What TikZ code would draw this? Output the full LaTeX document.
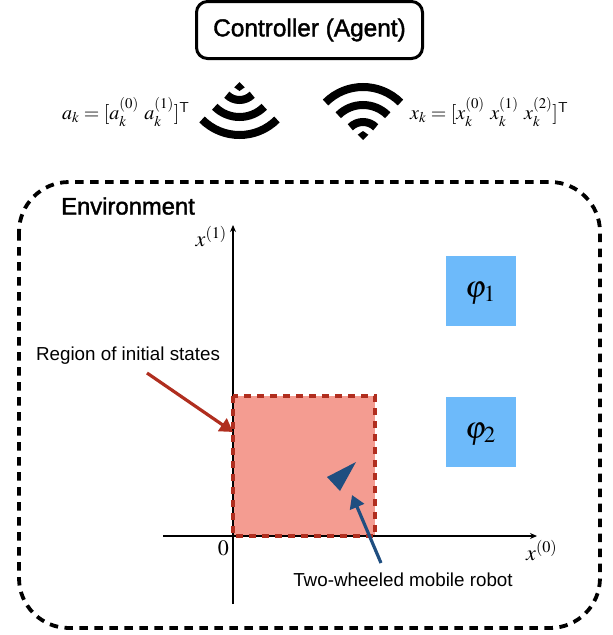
\documentclass[tikz,border=0pt]{standalone}
\usepackage{mathptmx}
\usepackage{fontspec}
\setmainfont{Liberation Sans}
\newfontfamily\boldishfont[FakeBold=1.6]{Liberation Sans}
\usetikzlibrary{calc,arrows.meta}
\definecolor{regionfill}{HTML}{F49C91}
\definecolor{regionline}{HTML}{B02E1F}
\definecolor{specblue}{HTML}{6DBAFA}
\definecolor{robotblue}{HTML}{1F4E80}
\tikzset{
    axisline/.style={line width=1.1pt,-{Stealth[length=7pt,width=6pt]}},
    specbox/.style={fill=specblue,minimum width=70pt,minimum height=70pt,inner sep=0pt,text height=16pt,text depth=4pt,font=\fontsize{31}{31}\selectfont},
    callout/.style={line width=3.2pt,-{Triangle[length=13pt,width=15pt]}},
    plainlabel/.style={font=\fontsize{18.8}{22}\selectfont,inner sep=0pt},
    mathlabel/.style={font=\fontsize{20}{24}\selectfont,inner sep=0pt}
}
\begin{document}
\begin{tikzpicture}[x=1pt,y=-1pt]
    \useasboundingbox (0,0) rectangle (613,635);
    % top row
    \node[draw,line width=3pt,rounded corners=11pt,minimum width=226pt,minimum height=57pt,font=\boldishfont\fontsize{24.4}{26}\selectfont] (controller) at (309.5,30) {Controller (Agent)};
    \node[mathlabel,anchor=west] (action) at (62,112) {$a_k=[a_k^{(0)}\ a_k^{(1)}]^{\mathsf{T}}$};
    \node[mathlabel,anchor=west] (state) at (410,112) {$x_k=[x_k^{(0)}\ x_k^{(1)}\ x_k^{(2)}]^{\mathsf{T}}$};
    % the two signal icons
    \coordinate (down) at (239.5,82);
    \coordinate (up) at (363,140);
    \foreach \r in {18,35,53}{
        \draw[line width=8pt] ($(down)+(45:\r)$) arc (45:135:\r);
        \draw[line width=8pt] ($(up)+(-45:\r)$) arc (-45:-135:\r);
    }
    \fill (down)++(0,0) -- +(45:7.5) -- +(0,9) -- +(135:7.5) -- cycle;
    \fill (up)++(0,0) -- +(-45:7.5) -- +(0,-9) -- +(-135:7.5) -- cycle;
    % environment
    \draw[line width=3.8pt,dash pattern=on 8.5pt off 6.5pt,rounded corners=50pt] (19,182) rectangle (600,628);
    \node[anchor=west,inner sep=0pt,font=\boldishfont\fontsize{23.8}{26}\selectfont] (environment) at (61,206) {Environment};
    % region of initial states
    \fill[regionfill] (233,396) rectangle (375,536);
    \coordinate (origin) at (233,536);
    \draw[axisline] (163,536) -- (537,536);
    \draw[axisline] (233,604) -- (233,225);
    \draw[regionline,line width=3.4pt,dash pattern=on 7pt off 6pt] (233,396) rectangle (375,536);
    \node[mathlabel,anchor=north east,font=\fontsize{22}{24}\selectfont] (zero) at (229,541) {$0$};
    \node[mathlabel,anchor=east,font=\fontsize{22}{24}\selectfont] (xone) at (227,237) {$x^{(1)}$};
    \node[mathlabel,anchor=west,font=\fontsize{22}{24}\selectfont] (xzero) at (526,551) {$x^{(0)}$};
    % specification regions
    \node[specbox] (phione) at (480.5,291) {$\varphi_1$};
    \node[specbox] (phitwo) at (480.5,432) {$\varphi_2$};
    % robot
    \fill[robotblue] (356,462) -- (327,477) -- (340,491) -- cycle;
    % callouts
    \node[plainlabel] (regionlabel) at (128,356) {Region of initial states};
    \node[plainlabel] (robotlabel) at (403,580) {Two-wheeled mobile robot};
    \coordinate (regionstart) at (147,373);
    \coordinate (regionend) at (233,432);
    \coordinate (robotstart) at (381,563);
    \coordinate (robotend) at (352,495);
    \draw[callout,regionline] (regionstart) -- (regionend);
    \draw[callout,robotblue] (robotstart) -- (robotend);
\end{tikzpicture}
\end{document}
